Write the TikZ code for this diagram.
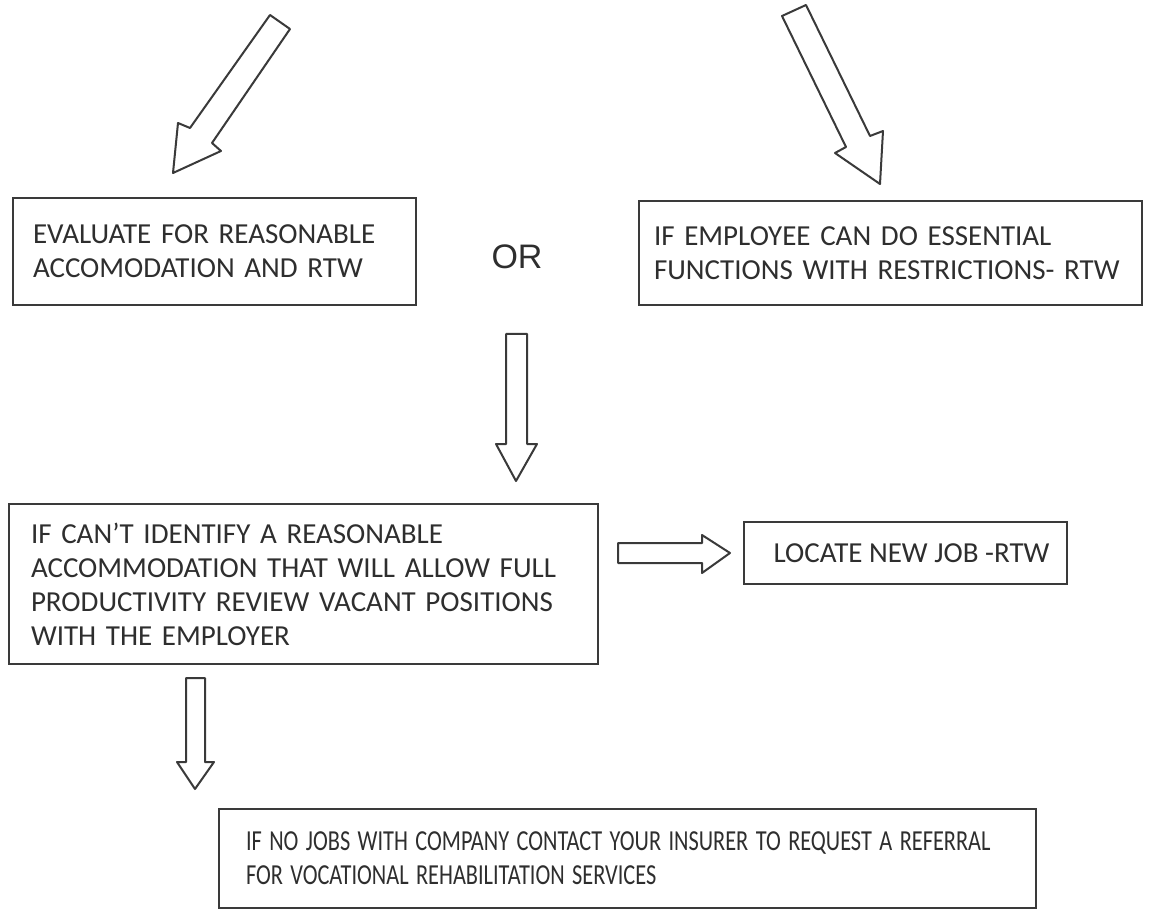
\documentclass[tikz,border=0pt]{standalone}
\usepackage{fontspec}
\setmainfont{Carlito}
\newfontfamily\orfont{Liberation Sans}
\definecolor{lc}{HTML}{3A3A3A}
\definecolor{tc}{HTML}{2E2E2E}
\begin{document}
\begin{tikzpicture}[x=1pt,y=-1pt,
  box/.style={draw=lc, line width=2pt, rectangle, anchor=north west, align=left,
    inner ysep=0pt, font=\fontsize{29}{34}\selectfont, text=tc},
  blockarrow/.style={draw=lc, line width=2pt, line join=round, fill=white}]
\useasboundingbox[fill=white] (0,0) rectangle (1149,909);

% boxes
\node[box, minimum width=403pt, minimum height=107pt, inner xsep=20pt, text width=363pt]
  (b1) at (12,197) {EVALUATE FOR REASONABLE\\ACCOMODATION AND RTW};
\node[box, minimum width=503pt, minimum height=104pt, inner xsep=15pt, text width=473pt]
  (b2) at (638,200) {IF EMPLOYEE CAN DO ESSENTIAL\\FUNCTIONS WITH RESTRICTIONS- RTW};
\node[font=\orfont\fontsize{34}{34}\selectfont, text=tc] (or) at (517,257) {OR};
\node[box, minimum width=589pt, minimum height=160pt, inner xsep=22pt, text width=545pt]
  (b3) at (8,503) {IF CAN’T IDENTIFY A REASONABLE\\ACCOMMODATION THAT WILL ALLOW FULL\\PRODUCTIVITY REVIEW VACANT POSITIONS\\WITH THE EMPLOYER};
\node[box, anchor=center, align=center, minimum width=323pt, minimum height=62pt, inner xsep=0pt]
  (b4) at (905.5,553) {\hspace*{12pt}LOCATE NEW JOB -RTW};
\node[box, minimum width=817pt, minimum height=99pt, inner xsep=27pt, text width=763pt]
  (b5) at (218,808) {\scalebox{0.77}[1]{IF NO JOBS WITH COMPANY CONTACT YOUR INSURER TO REQUEST A REFERRAL}\\\scalebox{0.77}[1]{FOR VOCATIONAL REHABILITATION SERVICES}};

% block arrows
\draw[blockarrow] (270,15) -- (290,29) -- (212,143) -- (221,151) -- (173,173) -- (178,123) -- (190,128) -- cycle;
\draw[blockarrow] (782,16) -- (806,5) -- (870,136) -- (883,131) -- (880,184) -- (835,153) -- (846,147) -- cycle;
\draw[blockarrow] (506,334) -- (527,334) -- (527,444) -- (537,444) -- (516,481) -- (496,444) -- (506,444) -- cycle;
\draw[blockarrow] (618,543) -- (702,543) -- (702,535) -- (730,553) -- (702,573) -- (702,563) -- (618,563) -- cycle;
\draw[blockarrow] (186,678) -- (205,678) -- (205,762) -- (214,762) -- (195,789) -- (177,762) -- (186,762) -- cycle;
\end{tikzpicture}
\end{document}
